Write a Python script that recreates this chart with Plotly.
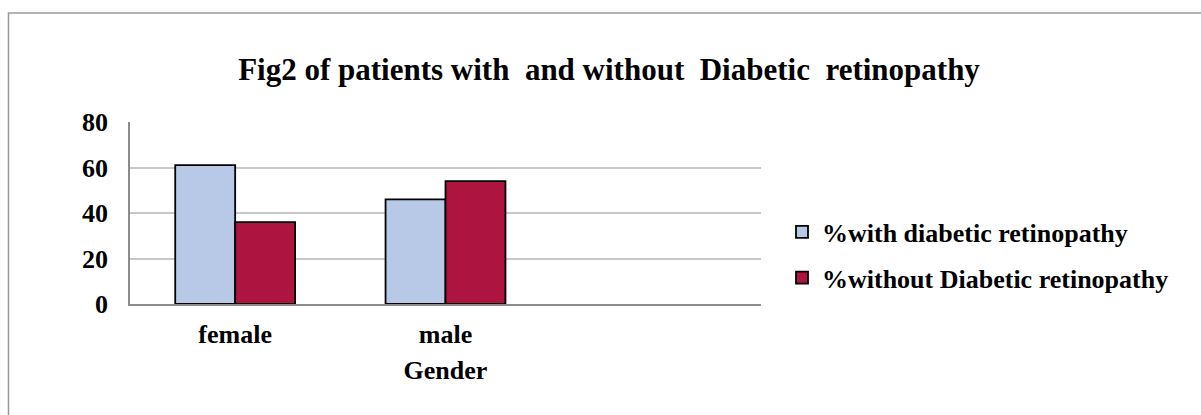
import plotly.graph_objects as go

# Gender groups (third slot left empty on the category axis)
categories = ["female", "male", " "]
with_dr = [61, 46, None]
without_dr = [36, 54, None]
series_names = ["%with diabetic retinopathy", "%without Diabetic retinopathy"]
y_ticks = [0, 20, 40, 60, 80]
title_text = "Fig2 of patients with \u00a0and without \u00a0Diabetic \u00a0retinopathy"

FONT = "Liberation Serif, Times New Roman, serif"
W, H = 1201, 415
L, R, T, B = 130, 440, 122, 111
plot_w = W - L - R
plot_h = H - T - B

fig = go.Figure()
fig.add_trace(go.Bar(
    x=categories, y=with_dr, name=series_names[0], legendgroup="a",
    marker=dict(color="#B7C9E6", line=dict(color="#000000", width=1.8)),
))
fig.add_trace(go.Bar(
    x=categories, y=without_dr, name=series_names[1], legendgroup="b",
    marker=dict(color="#AD1440", line=dict(color="#000000", width=1.8)),
))


def px_to_paper_x(px):
    return (px - L) / plot_w


def px_to_paper_y(py):
    return (H - B - py) / plot_h


# outer chart border (left and top edges visible)
fig.add_shape(
    type="rect", xref="paper", yref="paper",
    x0=px_to_paper_x(8.5), x1=px_to_paper_x(W + 20),
    y0=px_to_paper_y(H + 20), y1=px_to_paper_y(13),
    line=dict(color="#999999", width=1.5), fillcolor="rgba(0,0,0,0)", layer="below",
)

fig.update_layout(
    width=W, height=H,
    margin=dict(l=L, r=R, t=T, b=B),
    paper_bgcolor="white", plot_bgcolor="white",
    barmode="group", bargap=0.43, bargroupgap=0,
    font=dict(family=FONT, color="#000000", size=26),
    title=dict(
        text="<b>" + title_text + "</b>",
        x=609 / W, xanchor="center", xref="container",
        y=1 - 69 / H, yanchor="middle", yref="container",
        font=dict(family=FONT, size=31, color="#000000"),
    ),
    showlegend=True,
    legend=dict(
        x=px_to_paper_x(782), xanchor="left",
        y=px_to_paper_y(255), yanchor="middle",
        font=dict(family=FONT, size=26, color="#000000", weight="bold"),
        tracegroupgap=9, itemwidth=30,
        bgcolor="rgba(0,0,0,0)",
    ),
    xaxis=dict(
        type="category", range=[-0.5, 2.5],
        showgrid=False, showline=True, linecolor="#8c8c8c", linewidth=1.5,
        ticks="", tickfont=dict(family=FONT, size=26, weight="bold"),
        ticklabelstandoff=6,
        title=dict(text="<b>Gender</b>", font=dict(family=FONT, size=26), standoff=13),
    ),
    yaxis=dict(
        range=[0, 80], tickvals=y_ticks,
        showgrid=True, gridcolor="#c8c8c8", gridwidth=1.5,
        showline=True, linecolor="#8c8c8c", linewidth=1.5,
        zeroline=False,
        ticks="", tickfont=dict(family=FONT, size=26, weight="bold"),
        ticklabelstandoff=15,
    ),
)

fig.write_html("out.html")
